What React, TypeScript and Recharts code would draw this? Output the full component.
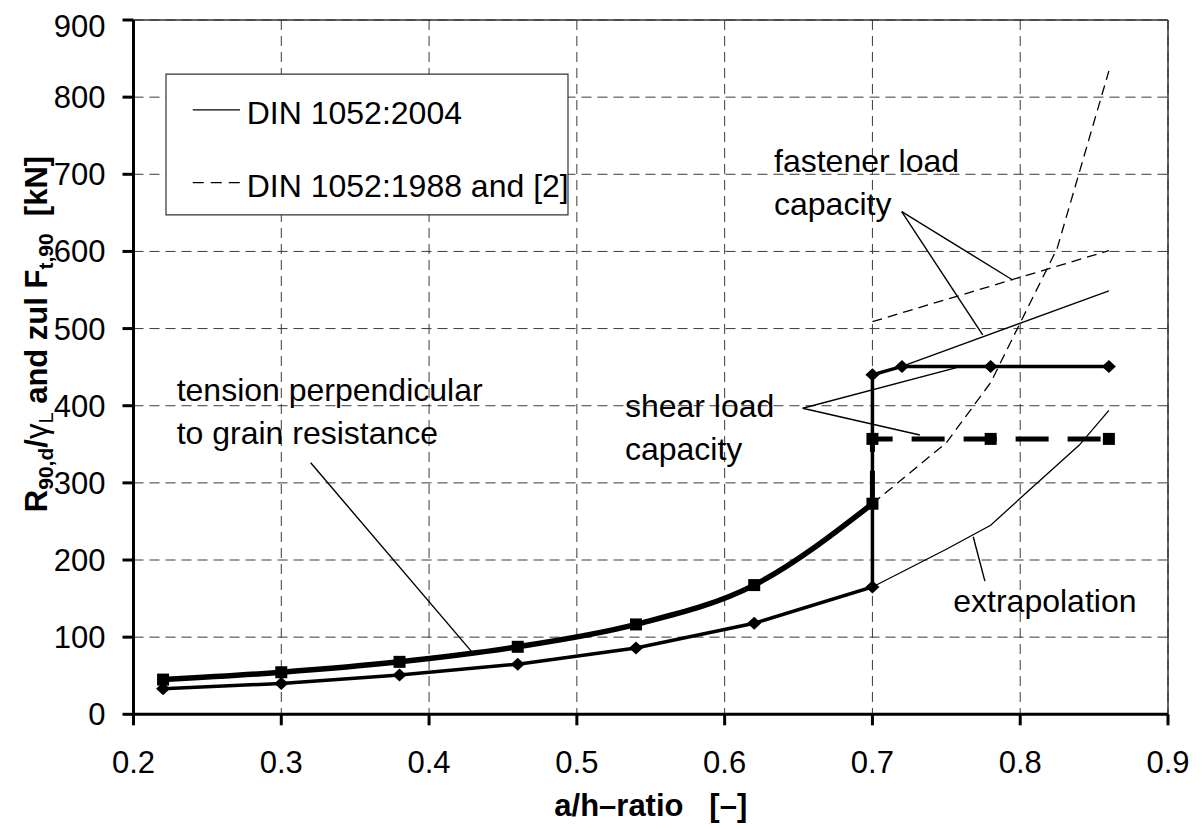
import React from 'react';
import {
  ComposedChart,
  Line,
  XAxis,
  YAxis,
  CartesianGrid,
  ReferenceLine,
  ReferenceArea,
  ReferenceDot,
} from 'recharts';

const FONT = '"Liberation Sans", Arial, Helvetica, sans-serif';

// ---------- data ----------
const xTicks = [0.2, 0.3, 0.4, 0.5, 0.6, 0.7, 0.8, 0.9];
const yTicks = [0, 100, 200, 300, 400, 500, 600, 700, 800, 900];

// DIN 1052:2004 – tension perpendicular to grain, then shear load capacity
const din2004Main = [
  { x: 0.22, y: 33 },
  { x: 0.3, y: 40 },
  { x: 0.38, y: 51 },
  { x: 0.46, y: 65 },
  { x: 0.54, y: 86 },
  { x: 0.62, y: 118 },
  { x: 0.7, y: 165 },
  { x: 0.7, y: 440 },
  { x: 0.72, y: 451 },
  { x: 0.78, y: 451 },
  { x: 0.86, y: 451 },
];

// DIN 1052:1988 and [2] – tension perpendicular to grain
const din1988Curve = [
  { x: 0.22, y: 45 },
  { x: 0.3, y: 54.5 },
  { x: 0.38, y: 68 },
  { x: 0.46, y: 87.5 },
  { x: 0.54, y: 116.5 },
  { x: 0.62, y: 167.5 },
  { x: 0.7, y: 273 },
];

// DIN 1052:1988 and [2] – shear load capacity
const din1988Shear = [
  { x: 0.7, y: 273 },
  { x: 0.7, y: 357 },
  { x: 0.78, y: 357 },
  { x: 0.86, y: 357 },
];

// extrapolations
const extrap2004 = [
  { x: 0.7, y: 165 },
  { x: 0.75, y: 214 },
  { x: 0.78, y: 245 },
  { x: 0.8, y: 280 },
  { x: 0.84, y: 349 },
  { x: 0.86, y: 394 },
];
const extrap1988 = [
  { x: 0.7, y: 273 },
  { x: 0.75, y: 352 },
  { x: 0.78, y: 430 },
  { x: 0.825, y: 604 },
  { x: 0.86, y: 834 },
];

// fastener load capacity
const fastener2004 = [
  { x: 0.72, y: 451 },
  { x: 0.86, y: 549 },
];
const fastener1988 = [
  { x: 0.7, y: 509 },
  { x: 0.86, y: 601 },
];

// annotation leader lines (data coordinates)
const annotationLeaders = [
  [{ x: 0.7198, y: 651.6 }, { x: 0.7949, y: 563 }],
  [{ x: 0.7198, y: 651.6 }, { x: 0.7746, y: 491.8 }],
  [{ x: 0.6528, y: 396.7 }, { x: 0.7614, y: 451.6 }],
  [{ x: 0.6528, y: 396.7 }, { x: 0.7321, y: 362.1 }],
  [{ x: 0.3199, y: 326 }, { x: 0.4288, y: 81.2 }],
  [{ x: 0.7682, y: 230.2 }, { x: 0.7761, y: 172.7 }],
];

const annotationTexts = [
  { x: 0.6334, y: 703, lines: ['fastener load', 'capacity'] },
  { x: 0.5325, y: 385.8, lines: ['shear load', 'capacity'] },
  { x: 0.2292, y: 406.6, lines: ['tension perpendicular', 'to grain resistance'] },
  { x: 0.7547, y: 133, lines: ['extrapolation'] },
];

// legend (data coordinates of the box inside the plot)
const legendBox = { x1: 0.222, x2: 0.494, y1: 647.4, y2: 829.8 };
const legendItems = [
  { label: 'DIN 1052:2004', x1: 0.2401, x2: 0.2721, y: 783.5, textX: 0.2766, textY: 765.3, dash: undefined },
  { label: 'DIN 1052:1988 and [2]', x1: 0.2401, x2: 0.2721, y: 689.2, textX: 0.2766, textY: 671.1, dash: '11 7' },
];

// ---------- shapes ----------
const diamond = (props: any) => {
  const { cx, cy, index } = props;
  if (cx == null || cy == null) return <g key={`d-${index}`} />;
  const w = 7;
  const h = 6.5;
  return (
    <path
      key={`d-${index}`}
      d={`M${cx},${cy - h} L${cx + w},${cy} L${cx},${cy + h} L${cx - w},${cy} Z`}
      fill="#000"
      stroke="none"
    />
  );
};

const square = (skipFirst: boolean) => (props: any) => {
  const { cx, cy, index } = props;
  if (cx == null || cy == null || (skipFirst && index === 0)) return <g key={`s-${index}`} />;
  const s = 6;
  return <rect key={`s-${index}`} x={cx - s} y={cy - s} width={2 * s} height={2 * s} fill="#000" />;
};

const textShape = (lines: string[]) => (props: any) => (
  <text x={props.cx} y={props.cy} fontSize={32} fontFamily={FONT} fill="#000" style={{ whiteSpace: 'pre' }}>
    {lines.map((l, i) => (
      <tspan key={i} x={props.cx} dy={i === 0 ? 0 : 43}>
        {l}
      </tspan>
    ))}
  </text>
);

const YLabel = (props: any) => {
  const vb = props.viewBox || { x: 0, y: 12 };
  const cx = vb.x + 38.7;
  const cy = vb.y + 314;
  return (
    <text
      x={cx}
      y={cy}
      transform={`rotate(-90, ${cx}, ${cy})`}
      textAnchor="middle"
      fontSize={31}
      fontWeight="bold"
      fontFamily={FONT}
      fill="#000"
      style={{ whiteSpace: 'pre' }}
    >
      <tspan>R</tspan>
      <tspan fontSize={21} dy={6}>90,d</tspan>
      <tspan dy={-6}>/</tspan>
      <tspan fontWeight="normal">γ</tspan>
      <tspan fontSize={20} dy={6} fontWeight="normal">L</tspan>
      <tspan dy={-6}> and zul F</tspan>
      <tspan fontSize={21} dy={6}>t,90</tspan>
      <tspan dy={-6}>{'  [kN]'}</tspan>
    </text>
  );
};

const XLabel = (props: any) => {
  const vb = props.viewBox || { x: 125.5, y: 706.3, width: 1034.5 };
  const cx = vb.x + vb.width / 2;
  const cy = vb.y + 101.7;
  return (
    <text
      x={cx}
      y={cy}
      textAnchor="middle"
      fontSize={31}
      fontWeight="bold"
      fontFamily={FONT}
      fill="#000"
      style={{ whiteSpace: 'pre' }}
    >
      {'a/h–ratio   [–]'}
    </text>
  );
};

export default function App() {
  return (
    <div style={{ width: 1194, height: 821 }}>
      <ComposedChart width={1194} height={821} margin={{ top: 12, right: 34, left: 0, bottom: 14.7 }}>
        <CartesianGrid stroke="#3a3a3a" strokeDasharray="10 6" strokeWidth={1} />
        <XAxis
          type="number"
          dataKey="x"
          domain={[0.2, 0.9]}
          ticks={xTicks}
          allowDataOverflow
          height={100}
          tickSize={11}
          tickMargin={26}
          tickFormatter={(v: number) => v.toFixed(1)}
          tick={{ fontSize: 31, fill: '#000', fontFamily: FONT }}
          axisLine={{ stroke: '#000', strokeWidth: 3 }}
          tickLine={{ stroke: '#000', strokeWidth: 3 }}
          label={XLabel}
        />
        <YAxis
          type="number"
          dataKey="y"
          domain={[0, 900]}
          ticks={yTicks}
          allowDataOverflow
          width={125.5}
          tickSize={11}
          tickMargin={17}
          tick={{ fontSize: 31, fill: '#000', fontFamily: FONT }}
          axisLine={{ stroke: '#000', strokeWidth: 3 }}
          tickLine={{ stroke: '#000', strokeWidth: 3 }}
          label={YLabel}
        />
        <ReferenceLine y={900} stroke="#333" strokeWidth={1.5} />
        <ReferenceLine x={0.9} stroke="#333" strokeWidth={1.5} />

        <ReferenceArea
          x1={legendBox.x1}
          x2={legendBox.x2}
          y1={legendBox.y1}
          y2={legendBox.y2}
          fill="#fff"
          fillOpacity={1}
          stroke="#333"
          strokeWidth={1.2}
          ifOverflow="visible"
        />
        {legendItems.map((it, i) => (
          <ReferenceLine
            key={`ll-${i}`}
            segment={[
              { x: it.x1, y: it.y },
              { x: it.x2, y: it.y },
            ]}
            stroke="#000"
            strokeWidth={1.4}
            strokeDasharray={it.dash}
            ifOverflow="visible"
          />
        ))}
        {legendItems.map((it, i) => (
          <ReferenceDot key={`lt-${i}`} x={it.textX} y={it.textY} r={0} shape={textShape([it.label])} ifOverflow="visible" />
        ))}

        {annotationLeaders.map((seg, i) => (
          <ReferenceLine key={`al-${i}`} segment={seg} stroke="#000" strokeWidth={1.4} ifOverflow="visible" />
        ))}
        {annotationTexts.map((t, i) => (
          <ReferenceDot key={`at-${i}`} x={t.x} y={t.y} r={0} shape={textShape(t.lines)} ifOverflow="visible" />
        ))}

        <Line data={extrap2004} dataKey="y" type="linear" stroke="#000" strokeWidth={1.3} dot={false} activeDot={false} isAnimationActive={false} />
        <Line data={extrap1988} dataKey="y" type="linear" stroke="#000" strokeWidth={1.3} strokeDasharray="10 6" dot={false} activeDot={false} isAnimationActive={false} />
        <Line data={fastener2004} dataKey="y" type="linear" stroke="#000" strokeWidth={1.3} dot={false} activeDot={false} isAnimationActive={false} />
        <Line data={fastener1988} dataKey="y" type="linear" stroke="#000" strokeWidth={1.3} strokeDasharray="10 6" dot={false} activeDot={false} isAnimationActive={false} />

        <Line data={din2004Main} dataKey="y" type="linear" stroke="#000" strokeWidth={3.5} strokeLinejoin="miter" dot={diamond} activeDot={false} isAnimationActive={false} />
        <Line data={din1988Curve} dataKey="y" type="monotone" stroke="#000" strokeWidth={5.5} dot={square(false)} activeDot={false} isAnimationActive={false} />
        <Line data={din1988Shear} dataKey="y" type="linear" stroke="#000" strokeWidth={5} strokeDasharray="33 19" strokeLinejoin="miter" dot={square(true)} activeDot={false} isAnimationActive={false} />
      </ComposedChart>
    </div>
  );
}
